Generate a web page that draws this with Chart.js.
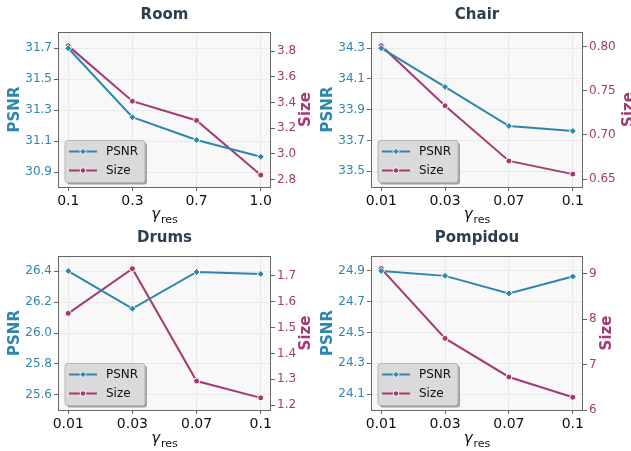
<!DOCTYPE html>
<html>
<head>
<meta charset="utf-8">
<script src="https://cdn.jsdelivr.net/npm/chart.js@4.4.1/dist/chart.umd.min.js"></script>
<style>
  body { margin: 0; background: #fff; }
  #wrap { position: relative; width: 631px; height: 451px; overflow: hidden; }
  canvas { position: absolute; }
</style>
</head>
<body>
<div id="wrap">
  <canvas id="room" width="315" height="225" style="left:0;top:0"></canvas>
  <canvas id="chair" width="316" height="225" style="left:315px;top:0"></canvas>
  <canvas id="drums" width="315" height="226" style="left:0;top:225px"></canvas>
  <canvas id="pompidou" width="316" height="226" style="left:315px;top:225px"></canvas>
</div>
<script>
// gamma_res values on the x axis
const roomLabels = ["0.1", "0.3", "0.7", "1.0"];
const sceneLabels = ["0.01", "0.03", "0.07", "0.1"];

// PSNR / Size per scene
const roomPsnr = [31.70, 31.255, 31.108, 31.00];
const roomSize = [3.84, 3.41, 3.26, 2.835];
const chairPsnr = [34.30, 34.048, 33.794, 33.762];
const chairSize = [0.801, 0.733, 0.6705, 0.6556];
const drumsPsnr = [26.40, 26.157, 26.394, 26.381];
const drumsSize = [1.555, 1.728, 1.293, 1.228];
const pompidouPsnr = [24.90, 24.868, 24.754, 24.864];
const pompidouSize = [9.11, 7.575, 6.726, 6.28];

// tick labels
const roomPsnrTicks = [30.9, 31.1, 31.3, 31.5, 31.7];
const roomSizeTicks = [2.8, 3.0, 3.2, 3.4, 3.6, 3.8];
const chairPsnrTicks = [33.5, 33.7, 33.9, 34.1, 34.3];
const chairSizeTicks = [0.65, 0.70, 0.75, 0.80];
const drumsPsnrTicks = [25.6, 25.8, 26.0, 26.2, 26.4];
const drumsSizeTicks = [1.2, 1.3, 1.4, 1.5, 1.6, 1.7];
const pompidouPsnrTicks = [24.1, 24.3, 24.5, 24.7, 24.9];
const pompidouSizeTicks = [6, 7, 8, 9];

const FONT = "'DejaVu Sans', sans-serif";
const BLUE = "#2E86AB";
const MAGENTA = "#A23B72";

// draws background, frame, legend, titles
const decor = {
  id: 'decor',
  beforeDraw(chart) {
    const { ctx, chartArea: a } = chart;
    ctx.save();
    ctx.fillStyle = "#fff";
    ctx.fillRect(0, 0, chart.width, chart.height);
    ctx.fillStyle = "#f8f8f8";
    ctx.fillRect(a.left, a.top, a.right - a.left, a.bottom - a.top);
    ctx.restore();
  },
  afterDraw(chart, args, o) {
    const { ctx, chartArea: a } = chart;
    ctx.save();
    // frame
    ctx.strokeStyle = "#666";
    ctx.lineWidth = 1;
    ctx.strokeRect(a.left + 0.5, a.top + 0.5, a.right - a.left - 1, a.bottom - a.top);

    // legend
    const bx = a.left + 7, bw = 80, bh = 42, by = a.bottom - 4.5 - bh;
    ctx.fillStyle = "rgba(90,90,90,0.55)";
    roundRect(ctx, bx + 2, by + 2, bw, bh, 3); ctx.fill();
    ctx.fillStyle = "#dadada";
    ctx.strokeStyle = "#b5b5b5";
    roundRect(ctx, bx, by, bw, bh, 3); ctx.fill(); ctx.stroke();
    chart.data.datasets.forEach((ds, i) => {
      const ry = by + 11 + i * 19;
      ctx.strokeStyle = ds.borderColor;
      ctx.lineWidth = 2;
      ctx.beginPath(); ctx.moveTo(bx + 4, ry); ctx.lineTo(bx + 32, ry); ctx.stroke();
      ctx.fillStyle = ds.borderColor;
      ctx.strokeStyle = "#fff";
      ctx.lineWidth = 1;
      ctx.beginPath();
      if (ds.pointStyle === 'rectRot') {
        ctx.moveTo(bx + 18, ry - 3.2); ctx.lineTo(bx + 21.2, ry);
        ctx.lineTo(bx + 18, ry + 3.2); ctx.lineTo(bx + 14.8, ry); ctx.closePath();
      } else {
        ctx.arc(bx + 18, ry, 2.8, 0, Math.PI * 2);
      }
      ctx.fill(); ctx.stroke();
      ctx.fillStyle = "#111";
      ctx.font = "12px " + FONT;
      ctx.textBaseline = "middle";
      ctx.textAlign = "left";
      ctx.fillText(ds.label, bx + 41, ry + 0.5);
    });

    const cx = (a.left + a.right) / 2, cy = (a.top + a.bottom) / 2;
    // panel title
    ctx.fillStyle = "#2C3E50";
    ctx.font = "bold 15px " + FONT;
    ctx.textAlign = "center";
    ctx.textBaseline = "middle";
    ctx.fillText(o.title, cx, o.titleY);

    // y axis titles, both read bottom to top
    ctx.font = "bold 15px " + FONT;
    [[o.psnrX, BLUE, "PSNR"], [o.sizeX, MAGENTA, "Size"]].forEach(([x, c, t]) => {
      ctx.save();
      ctx.translate(x, cy);
      ctx.rotate(-Math.PI / 2);
      ctx.fillStyle = c;
      ctx.fillText(t, 0, 0);
      ctx.restore();
    });

    // x title: gamma_res
    ctx.textAlign = "left";
    ctx.textBaseline = "alphabetic";
    ctx.fillStyle = "#111";
    ctx.font = "italic 15px " + FONT;
    const gw = ctx.measureText("γ").width;
    ctx.font = "11px " + FONT;
    const rw = ctx.measureText("res").width;
    const sx = cx - (gw + 1 + rw) / 2;
    ctx.font = "italic 15px " + FONT;
    ctx.fillText("γ", sx, o.xTitleY);
    ctx.font = "11px " + FONT;
    ctx.fillText("res", sx + gw + 1, o.xTitleY + 4.5);
    ctx.restore();
  }
};

function roundRect(ctx, x, y, w, h, r) {
  ctx.beginPath();
  ctx.moveTo(x + r, y);
  ctx.arcTo(x + w, y, x + w, y + h, r);
  ctx.arcTo(x + w, y + h, x, y + h, r);
  ctx.arcTo(x, y + h, x, y, r);
  ctx.arcTo(x, y, x + w, y, r);
  ctx.closePath();
}

function makePanel(p) {
  const W = p.W, H = p.H;
  const toXY = arr => arr.map((v, i) => ({ x: i, y: v }));
  new Chart(document.getElementById(p.id), {
    type: 'line',
    data: {
      datasets: [{
        label: "PSNR",
        data: toXY(p.psnr),
        yAxisID: 'y',
        borderColor: BLUE,
        backgroundColor: BLUE,
        borderWidth: 2,
        pointStyle: 'rectRot',
        pointRadius: 3.5,
        pointBorderColor: "#fff",
        pointBorderWidth: 1,
        pointBackgroundColor: BLUE,
      }, {
        label: "Size",
        data: toXY(p.size),
        yAxisID: 'y1',
        borderColor: MAGENTA,
        backgroundColor: MAGENTA,
        borderWidth: 2,
        pointStyle: 'circle',
        pointRadius: 3,
        pointBorderColor: "#fff",
        pointBorderWidth: 1,
        pointBackgroundColor: MAGENTA,
      }],
    },
    options: {
      responsive: false,
      animation: false,
      layout: { padding: { top: p.top, left: 0, right: 0, bottom: 0 } },
      plugins: {
        legend: { display: false },
        tooltip: { enabled: false },
        decor: p,
      },
      scales: {
        x: {
          type: 'linear',
          min: -0.16,
          max: 3.16,
          afterBuildTicks: s => { s.ticks = p.labels.map((_, i) => ({ value: i })); },
          afterFit: s => { s.height = H - p.bottom; },
          ticks: {
            callback: v => p.labels[v],
            font: { size: 14, family: FONT },
            color: "#111",
            padding: 2,
            maxRotation: 0,
            autoSkip: false,
          },
          grid: { color: "#e9e9e9", tickColor: "#666", tickLength: 4 },
          border: { display: false },
        },
        y: {
          position: 'left',
          min: p.yMin,
          max: p.yMax,
          afterBuildTicks: s => { s.ticks = p.psnrTicks.map(v => ({ value: v })); },
          afterFit: s => { s.width = p.left; },
          ticks: {
            callback: v => v.toFixed(1),
            font: { size: 12, family: FONT },
            color: BLUE,
            padding: 2,
          },
          grid: { color: "#e9e9e9", tickColor: "#666", tickLength: 4 },
          border: { display: false },
        },
        y1: {
          position: 'right',
          min: p.y1Min,
          max: p.y1Max,
          afterBuildTicks: s => { s.ticks = p.sizeTicks.map(v => ({ value: v })); },
          afterFit: s => { s.width = W - p.right; },
          ticks: {
            callback: v => v.toFixed(p.sizeDec),
            font: { size: 12, family: FONT },
            color: MAGENTA,
            padding: 2,
          },
          grid: { drawOnChartArea: false, tickColor: "#666", tickLength: 4 },
          border: { display: false },
        },
      },
    },
    plugins: [decor],
  });
}

makePanel({ id: 'room', title: "Room", labels: roomLabels, psnr: roomPsnr, size: roomSize,
  psnrTicks: roomPsnrTicks, sizeTicks: roomSizeTicks, sizeDec: 1,
  yMin: 30.805, yMax: 31.805, y1Min: 2.742, y1Max: 3.948,
  W: 315, H: 225, left: 58, right: 271, top: 32, bottom: 187,
  titleY: 15, psnrX: 15, sizeX: 305.7, xTitleY: 218.5 });

makePanel({ id: 'chair', title: "Chair", labels: sceneLabels, psnr: chairPsnr, size: chairSize,
  psnrTicks: chairPsnrTicks, sizeTicks: chairSizeTicks, sizeDec: 2,
  yMin: 33.398, yMax: 34.405, y1Min: 0.641, y1Max: 0.8165,
  W: 316, H: 225, left: 56, right: 268, top: 32, bottom: 187,
  titleY: 15, psnrX: 13.3, sizeX: 314, xTitleY: 218.5 });

makePanel({ id: 'drums', title: "Drums", labels: sceneLabels, psnr: drumsPsnr, size: drumsSize,
  psnrTicks: drumsPsnrTicks, sizeTicks: drumsSizeTicks, sizeDec: 1,
  yMin: 25.503, yMax: 26.497, y1Min: 1.181, y1Max: 1.777,
  W: 315, H: 226, left: 58, right: 271, top: 31, bottom: 185,
  titleY: 12.7, psnrX: 15, sizeX: 305.7, xTitleY: 217.5 });

makePanel({ id: 'pompidou', title: "Pompidou", labels: sceneLabels, psnr: pompidouPsnr, size: pompidouSize,
  psnrTicks: pompidouPsnrTicks, sizeTicks: pompidouSizeTicks, sizeDec: 0,
  yMin: 23.997, yMax: 24.997, y1Min: 6.0, y1Max: 9.386,
  W: 316, H: 226, left: 56, right: 268, top: 31, bottom: 185,
  titleY: 12.7, psnrX: 13.3, sizeX: 291.7, xTitleY: 217.5 });
</script>
</body>
</html>
